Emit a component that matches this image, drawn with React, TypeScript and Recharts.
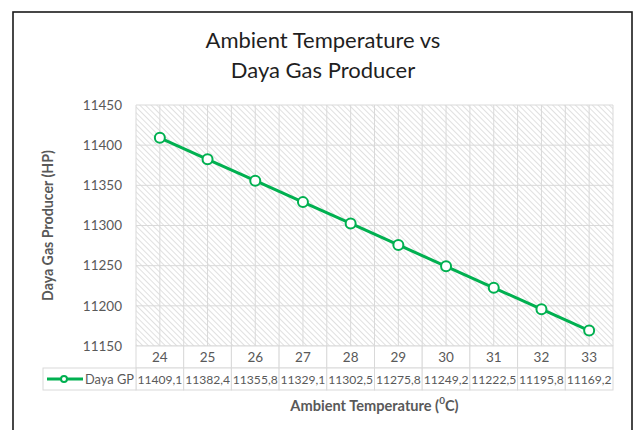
import React from 'react';
import { LineChart, Line, XAxis, YAxis, CartesianGrid } from 'recharts';

const categories = ['24', '25', '26', '27', '28', '29', '30', '31', '32', '33'];
const dayaGP = [11409.1, 11382.4, 11355.8, 11329.1, 11302.5, 11275.8, 11249.2, 11222.5, 11195.8, 11169.2];
const yTicks = [11150, 11200, 11250, 11300, 11350, 11400, 11450];
const titleLines = ['Ambient Temperature vs', 'Daya Gas Producer'];
const seriesName = 'Daya GP';
const xTitleMain = 'Ambient Temperature (';
const xTitleSup = '0';
const xTitleEnd = 'C)';
const yTitle = 'Daya Gas Producer (HP)';

const W = 640;
const H = 430;
const PLOT_L = 136;
const PLOT_R = 613;
const PLOT_T = 105;
const PLOT_B = 346;
const BW = (PLOT_R - PLOT_L) / categories.length;
const ROW_H = 22;
const LEGEND_L = 43;
const FONT = 'Lato, "Open Sans", sans-serif';
const GREEN = '#00b050';
const GRID = '#d9d9d9';
const TEXT = '#595959';

const data = categories.map((c, i) => ({ t: c, gp: dayaGP[i] }));
const fmt = (v: number) => v.toFixed(1).replace('.', ',');

const verticalPoints: number[] = [];
for (let i = 0; i <= categories.length * 2; i++) verticalPoints.push(PLOT_L + (i * BW) / 2);

const TableTick = (props: any) => {
  const { x, y, payload, index } = props;
  const left = x - BW / 2;
  const r2 = y + ROW_H;
  const midRow2 = y + ROW_H * 1.5;
  return (
    <g>
      <rect x={left} y={y} width={BW} height={ROW_H} fill="#fff" stroke={GRID} strokeWidth={1} />
      <text x={x} y={y + ROW_H / 2} textAnchor="middle" dominantBaseline="central" fill={TEXT} fontSize={13.5} fontFamily={FONT}>
        {payload.value}
      </text>
      <rect x={left} y={r2} width={BW} height={ROW_H} fill="#fff" stroke={GRID} strokeWidth={1} />
      <text x={x} y={midRow2} textAnchor="middle" dominantBaseline="central" fill={TEXT} fontSize={12.1} fontFamily={FONT}>
        {fmt(dayaGP[index])}
      </text>
      {index === 0 && (
        <g>
          <rect x={LEGEND_L} y={r2} width={left - LEGEND_L} height={ROW_H} fill="#fff" stroke={GRID} strokeWidth={1} />
          <line x1={LEGEND_L + 4} x2={LEGEND_L + 40} y1={midRow2} y2={midRow2} stroke={GREEN} strokeWidth={3} />
          <circle cx={LEGEND_L + 21} cy={midRow2} r={3} fill="#fff" stroke={GREEN} strokeWidth={2} />
          <text x={LEGEND_L + 42} y={midRow2} textAnchor="start" dominantBaseline="central" fill={TEXT} fontSize={12.8} fontFamily={FONT}>
            {seriesName}
          </text>
        </g>
      )}
    </g>
  );
};

const YTitle = (props: any) => {
  const vb = props.viewBox || { x: 0, y: PLOT_T, width: PLOT_L, height: PLOT_B - PLOT_T };
  const cx = vb.x + 47;
  const cy = vb.y + vb.height / 2;
  return (
    <text x={cx} y={cy} transform={`rotate(-90 ${cx} ${cy})`} textAnchor="middle" dominantBaseline="central" fill={TEXT} fontSize={14.2} fontWeight="bold" fontFamily={FONT}>
      {yTitle}
    </text>
  );
};

const XTitle = (props: any) => {
  const vb = props.viewBox || { x: PLOT_L, y: PLOT_B, width: PLOT_R - PLOT_L, height: H - PLOT_B };
  const cx = vb.x + vb.width / 2;
  const cy = vb.y + 59;
  return (
    <text x={cx} y={cy} textAnchor="middle" dominantBaseline="central" fill={TEXT} fontSize={14.6} fontWeight="bold" fontFamily={FONT}>
      {xTitleMain}
      <tspan fontSize={10} dy={-5}>{xTitleSup}</tspan>
      <tspan dy={5}>{xTitleEnd}</tspan>
    </text>
  );
};

export default function App() {
  return (
    <div style={{ position: 'absolute', left: 0, top: 0, width: W, height: H, background: '#fff', overflow: 'hidden' }}>
      <svg width={W} height={H} style={{ position: 'absolute', left: 0, top: 0 }}>
        <defs>
          <pattern id="hatch" width="4" height="4" patternUnits="userSpaceOnUse" patternTransform="rotate(-45)">
            <rect width="4" height="4" fill="#ffffff" />
            <line x1="0" y1="0" x2="0" y2="4" stroke="#cfcfcf" strokeWidth="1.3" />
          </pattern>
        </defs>
      </svg>
      <div style={{ position: 'absolute', left: 0, top: 0 }}>
        <LineChart width={W} height={H} data={data} margin={{ top: PLOT_T, right: W - PLOT_R, bottom: 0, left: 0 }}>
          <CartesianGrid
            stroke={GRID}
            strokeWidth={1}
            fill="url(#hatch)"
            verticalPoints={verticalPoints}
          />
          <XAxis
            dataKey="t"
            type="category"
            interval={0}
            axisLine={false}
            tickLine={false}
            tickSize={0}
            tickMargin={0}
            height={H - PLOT_B}
            padding={{ left: BW / 2, right: BW / 2 }}
            tick={<TableTick />}
            label={{ content: <XTitle /> } as any}
          />
          <YAxis
            domain={[11150, 11450]}
            ticks={yTicks}
            interval={0}
            width={PLOT_L}
            axisLine={false}
            tickLine={false}
            tickMargin={8}
            tick={{ fill: TEXT, fontSize: 13.5, fontFamily: FONT }}
            label={{ content: <YTitle /> } as any}
          />
          <Line
            type="linear"
            dataKey="gp"
            stroke={GREEN}
            strokeWidth={3}
            dot={{ r: 5, fill: '#fff', stroke: GREEN, strokeWidth: 2 }}
            activeDot={false}
            isAnimationActive={false}
          />
        </LineChart>
      </div>
      <svg width={W} height={H} style={{ position: 'absolute', left: 0, top: 0, pointerEvents: 'none' }}>
        <rect x={13} y={12} width={619} height={H} fill="none" stroke="#1a1a1a" strokeWidth={1.6} />
        <text x={323} y={48} textAnchor="middle" fill="#1f1f1f" fontSize={22} fontFamily={FONT}>
          {titleLines[0]}
        </text>
        <text x={323} y={78} textAnchor="middle" fill="#1f1f1f" fontSize={22} fontFamily={FONT}>
          {titleLines[1]}
        </text>
      </svg>
    </div>
  );
}
